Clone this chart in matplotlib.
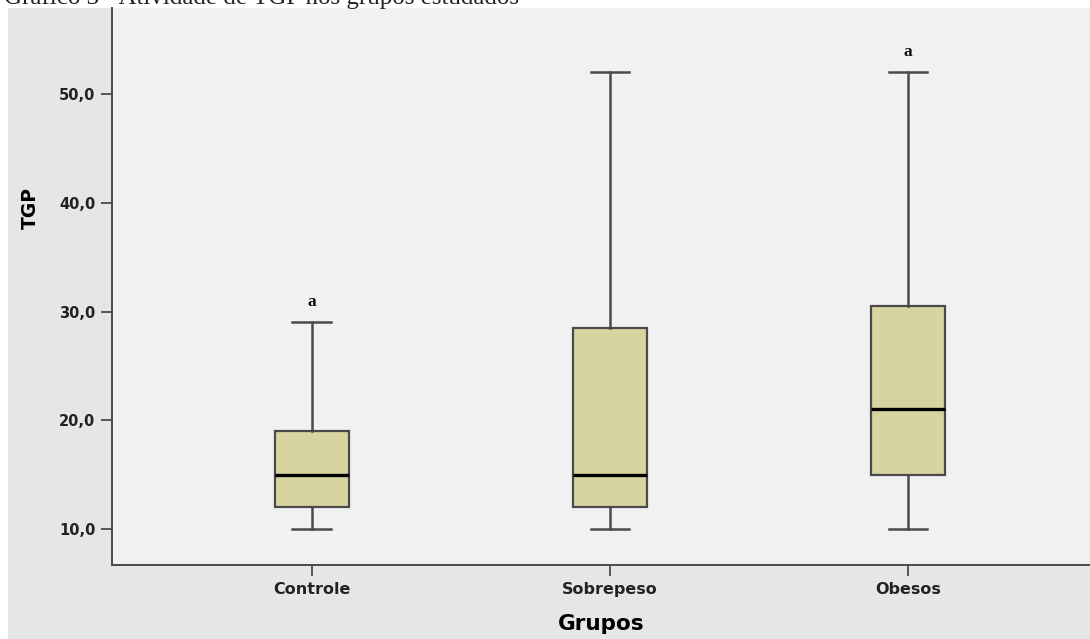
"""Boxplot of TGP activity by study group."""

import matplotlib.pyplot as plt
from matplotlib.patches import Rectangle
from matplotlib.ticker import FuncFormatter

groups = ["Controle", "Sobrepeso", "Obesos"]
whisker_low = [10.0, 10.0, 10.0]
q1 = [12.0, 12.0, 15.0]
median = [15.0, 15.0, 21.0]
q3 = [19.0, 28.5, 30.5]
whisker_high = [29.0, 52.0, 52.0]
marks = ["a", "", "a"]

W, H = 1090, 639


def main() -> None:
    fig = plt.figure(figsize=(W / 100, H / 100), dpi=100)
    fig.patch.set_facecolor("white")

    # grey SPSS panel behind the chart
    fig.add_artist(Rectangle((8 / W, 0), 1 - 8 / W, (H - 8) / H,
                             transform=fig.transFigure, facecolor="#e6e6e6",
                             edgecolor="none", zorder=-5))
    # caption from the page, cut off by the crop in the original
    fig.text(4 / W, (H - 4) / H, "Gráfico 3 - Atividade de TGP nos grupos estudados",
             family="Liberation Serif", fontsize=18, color="#222222", va="baseline")

    ax = fig.add_axes([112 / W, (H - 565) / H, (W - 112) / W, (565 - 8) / H])
    ax.set_facecolor("#f1f1f1")

    stats = []
    for i, g in enumerate(groups):
        stats.append({"label": g, "whislo": whisker_low[i], "q1": q1[i], "med": median[i],
                      "q3": q3[i], "whishi": whisker_high[i], "fliers": []})

    edge = "#4a4a4a"
    ax.bxp(stats, positions=range(len(groups)), widths=0.25, patch_artist=True,
           showfliers=False,
           boxprops={"facecolor": "#d8d4a0", "edgecolor": edge, "linewidth": 1.6},
           whiskerprops={"color": edge, "linewidth": 1.8},
           capprops={"color": edge, "linewidth": 1.8},
           medianprops={"color": "black", "linewidth": 2.4},
           capwidths=0.13)

    for i, m in enumerate(marks):
        if m:
            ax.text(i, whisker_high[i] + 1.9, m, ha="center", va="center",
                    family="Liberation Serif", fontweight="bold", fontsize=12.5,
                    color="#111111")

    ax.set_xlim(-0.67, 2.61)
    ax.set_ylim(6.7, 57.9)
    ax.set_yticks([10, 20, 30, 40, 50])
    ax.yaxis.set_major_formatter(FuncFormatter(lambda v, p: f"{v:.1f}".replace(".", ",")))
    ax.set_xticks(range(len(groups)))
    ax.set_xticklabels(groups)

    for lab in ax.get_xticklabels():
        lab.set_fontweight("bold")
        lab.set_fontsize(11.5)
        lab.set_color("#222222")
    for lab in ax.get_yticklabels():
        lab.set_fontweight("bold")
        lab.set_fontsize(10.5)
        lab.set_color("#222222")

    ax.tick_params(axis="both", direction="out", length=8, width=1.3, color=edge, pad=4)
    ax.set_ylabel("TGP", fontsize=13.5, fontweight="bold", va="center")
    ax.yaxis.set_label_coords(-0.083, 0.641)
    ax.set_xlabel("Grupos", fontsize=15.5, fontweight="bold", va="center")
    ax.xaxis.set_label_coords(0.5, -0.106)

    for side in ("top", "right"):
        ax.spines[side].set_visible(False)
    for side in ("left", "bottom"):
        ax.spines[side].set_color(edge)
        ax.spines[side].set_linewidth(1.4)

    fig.savefig("out.png", dpi=100, facecolor=fig.get_facecolor())


if __name__ == "__main__":
    main()
